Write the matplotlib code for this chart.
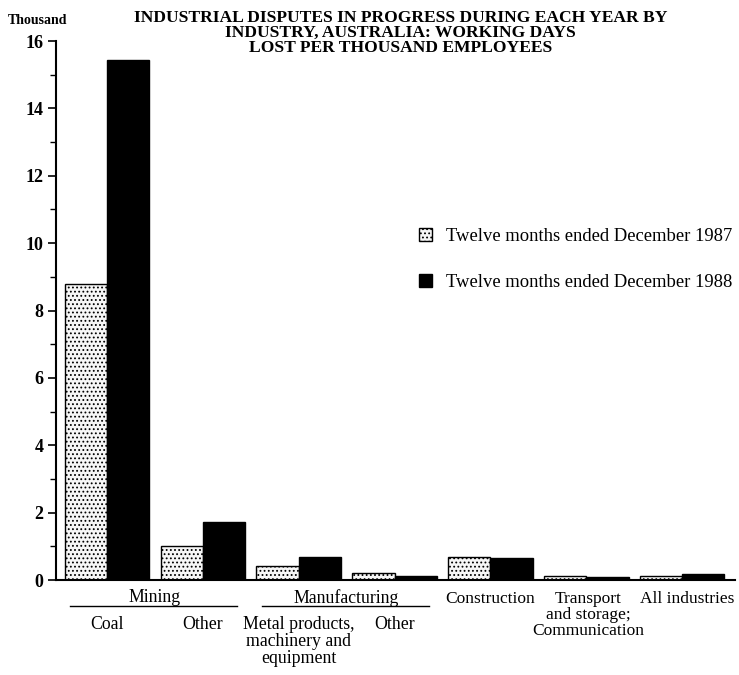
import numpy as np
import matplotlib.pyplot as plt
from matplotlib.patches import Patch
from matplotlib.ticker import MultipleLocator

plt.rcParams['font.family'] = ['Liberation Serif', 'DejaVu Serif']
plt.rcParams['hatch.color'] = '#a8a8a8'
plt.rcParams['hatch.linewidth'] = 0.8

# working days lost per thousand employees, thousands
industries = ["Coal", "Other", "Metal products,\nmachinery and\nequipment", "Other",
              "Construction", "Transport\nand storage;\nCommunication", "All industries"]
days_1987 = [8.8, 1.0, 0.42, 0.21, 0.68, 0.12, 0.13]
days_1988 = [15.45, 1.72, 0.69, 0.13, 0.66, 0.09, 0.18]
series_names = ["Twelve months ended December 1987", "Twelve months ended December 1988"]
groups = [("Mining", 0, 1), ("Manufacturing", 2, 3)]

fig = plt.figure(figsize=(7.39, 6.75), dpi=100)
ax = fig.add_axes([0.0758, 0.1407, 0.9188, 0.7985])

x = np.arange(len(industries))
w = 0.44
ax.bar(x - w / 2, days_1987, w, facecolor='#f6f6f6', edgecolor='black', linewidth=1.0,
       hatch='....')
ax.bar(x + w / 2, days_1988, w, facecolor='black', edgecolor='black', linewidth=1.0)

ax.set_xlim(-0.53, 6.55)
ax.set_ylim(0, 16)
ax.yaxis.set_major_locator(MultipleLocator(2))
ax.yaxis.set_minor_locator(MultipleLocator(1))
ax.tick_params(axis='y', which='major', length=6, width=1.2, labelsize=13, pad=3)
ax.tick_params(axis='y', which='minor', length=4, width=1.0)
for lab in ax.get_yticklabels():
    lab.set_fontweight('bold')
ax.set_xticks([])
for s in ['top', 'right']:
    ax.spines[s].set_visible(False)
ax.spines['left'].set_linewidth(1.5)
ax.spines['bottom'].set_linewidth(1.5)

fig.text(0.011, 0.97, "Thousand", fontsize=10, fontweight='bold', ha='left', va='center')
fig.text(0.542, 0.951,
         "INDUSTRIAL DISPUTES IN PROGRESS DURING EACH YEAR BY\n"
         "INDUSTRY, AUSTRALIA: WORKING DAYS\n"
         "LOST PER THOUSAND EMPLOYEES",
         fontsize=12.6, fontweight='bold', ha='center', va='center', linespacing=0.9)

# category labels below the baseline
trans = ax.get_xaxis_transform()
label_shift = [0, 0, 0, 0, 0, 0.02, 0.05]
grouped = set()
for name, a, b in groups:
    mid = (a + b) / 2
    ax.text(mid, -0.033, name, transform=trans, ha='center', va='center', fontsize=12.8)
    ax.plot([a - 0.38, b + 0.36], [-0.049, -0.049], transform=trans, color='black',
            lw=1.0, clip_on=False)
    for i in (a, b):
        ax.text(x[i], -0.067, industries[i], transform=trans, ha='center', va='top',
                fontsize=12.8, linespacing=1.0)
        grouped.add(i)
for i, name in enumerate(industries):
    if i not in grouped:
        ax.text(x[i] + label_shift[i], -0.020, name, transform=trans, ha='center',
                va='top', fontsize=12.5, linespacing=1.0)

handles = [Patch(facecolor='#f6f6f6', edgecolor='black', hatch='....', linewidth=1.0),
           Patch(facecolor='black', edgecolor='black')]
ax.legend(handles, series_names, loc='upper left', bbox_to_anchor=(0.51, 0.685),
          frameon=False, fontsize=13.4, labelspacing=1.58, handlelength=0.7,
          handleheight=0.7, handletextpad=0.75)

fig.savefig("out.png", dpi=100)
